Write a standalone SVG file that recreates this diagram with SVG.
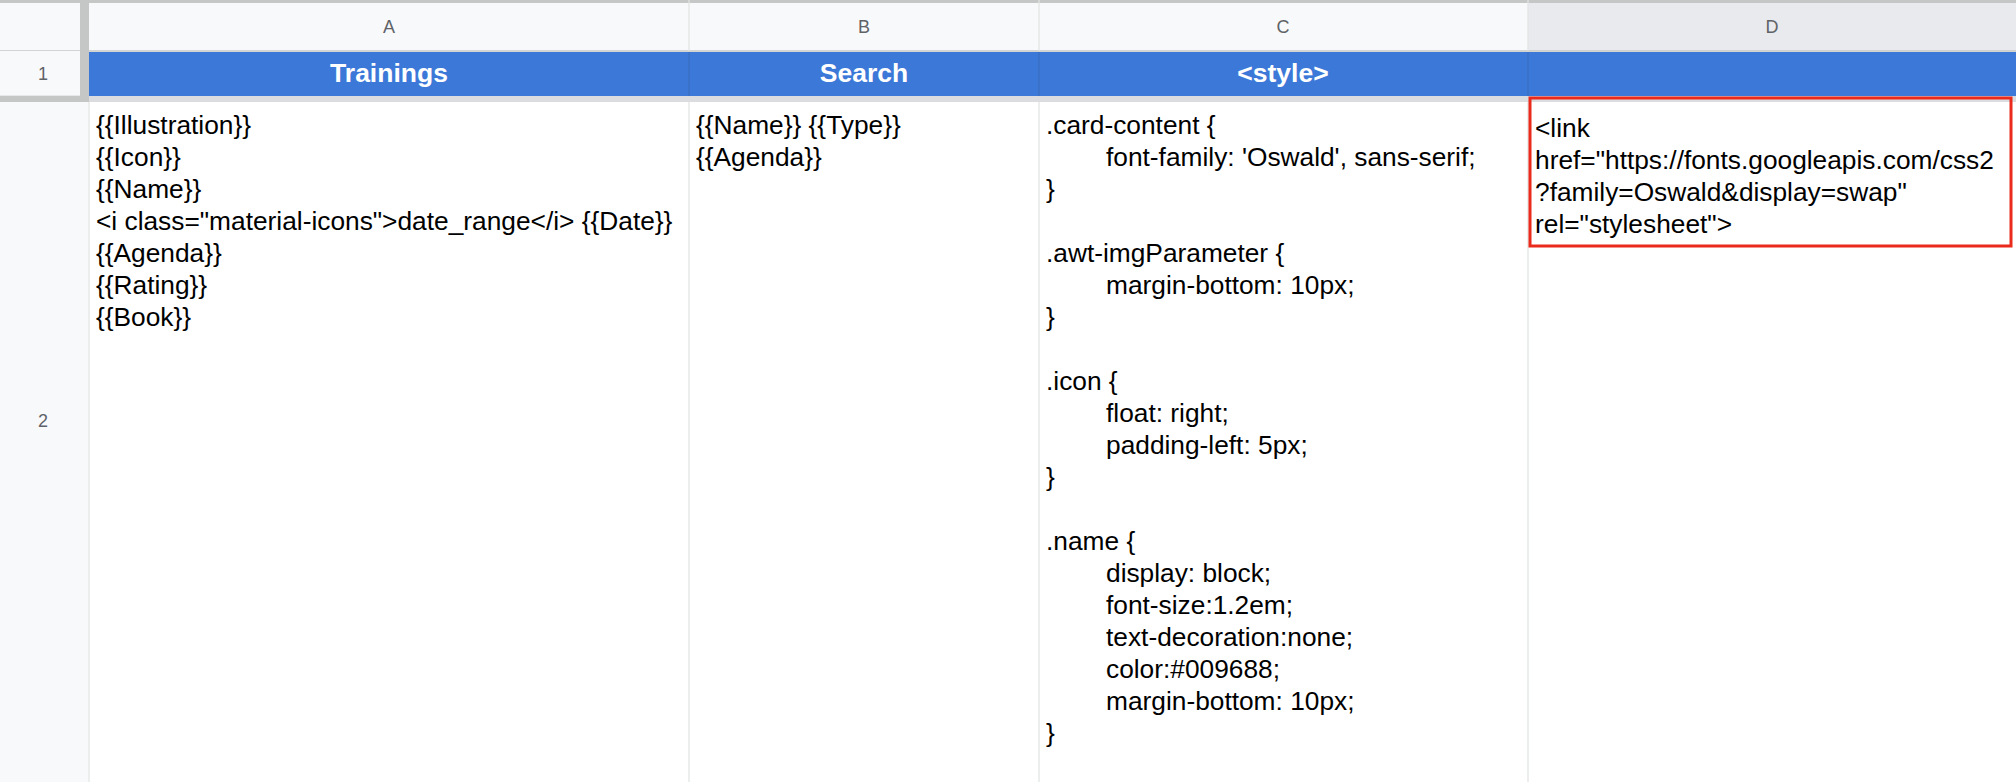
<svg xmlns="http://www.w3.org/2000/svg" width="2016" height="782" viewBox="0 0 2016 782">
<style>
.t{font-family:"Liberation Sans",Arial,sans-serif;font-size:26.3px;fill:#000}
.h{font-family:"Liberation Sans",Arial,sans-serif;font-size:26.5px;font-weight:bold;fill:#fff;text-anchor:middle}
.c{font-family:"Liberation Sans",Arial,sans-serif;font-size:18px;fill:#5f6368;text-anchor:middle}
.g{stroke:#e2e3e3;stroke-width:1.3}
</style>
<rect width="2016" height="782" fill="#fff"/>
<g id="colheaders">
<rect x="0" y="0" width="2016" height="51" fill="#f8f9fa"/>
<rect x="1528" y="0" width="488" height="51" fill="#e8eaed"/>
<rect x="0" y="0" width="2016" height="3" fill="#c4c7c5"/>
<line x1="0" y1="51" x2="2016" y2="51" stroke="#c4c7c5" stroke-width="1.5"/>
<line class="g" x1="689" y1="0" x2="689" y2="51"/>
<line class="g" x1="1039" y1="0" x2="1039" y2="51"/>
<line class="g" x1="1528" y1="0" x2="1528" y2="51"/>
<text class="c" x="389" y="33">A</text>
<text class="c" x="864" y="33">B</text>
<text class="c" x="1283" y="33">C</text>
<text class="c" x="1772" y="33">D</text>
</g>
<g id="rownums">
<rect x="0" y="51" width="88" height="731" fill="#f8f9fa"/>
<line class="g" x1="0" y1="96" x2="88" y2="96"/>
<text class="c" x="43" y="80">1</text>
<text class="c" x="43" y="427">2</text>
</g>
<g id="row1">
<rect x="89" y="52" width="1927" height="44" fill="#3c78d8"/>
<line x1="689" y1="52" x2="689" y2="96" stroke="#3a6fc4" stroke-width="1.3"/>
<line x1="1039" y1="52" x2="1039" y2="96" stroke="#3a6fc4" stroke-width="1.3"/>
<line x1="1528" y1="52" x2="1528" y2="96" stroke="#3a6fc4" stroke-width="1.3"/>
<text class="h" x="389" y="82">Trainings</text>
<text class="h" x="864" y="82">Search</text>
<text class="h" x="1283" y="82">&lt;style&gt;</text>
</g>
<g id="freeze">
<rect x="0" y="96" width="88" height="6" fill="#c4c7c5"/>
<rect x="88" y="96" width="1928" height="6" fill="#dadce0"/>
<rect x="80" y="0" width="9" height="102" fill="#c4c7c5"/>
<line class="g" x1="89" y1="102" x2="89" y2="782"/>
<line class="g" x1="689" y1="102" x2="689" y2="782"/>
<line class="g" x1="1039" y1="102" x2="1039" y2="782"/>
<line class="g" x1="1528" y1="102" x2="1528" y2="782"/>
</g>
<g id="cellA">
<text class="t" x="96" y="134">{{Illustration}}</text>
<text class="t" x="96" y="166">{{Icon}}</text>
<text class="t" x="96" y="198">{{Name}}</text>
<text class="t" x="96" y="230">&lt;i class="material-icons"&gt;date_range&lt;/i&gt; {{Date}}</text>
<text class="t" x="96" y="262">{{Agenda}}</text>
<text class="t" x="96" y="294">{{Rating}}</text>
<text class="t" x="96" y="326">{{Book}}</text>
</g>
<g id="cellB">
<text class="t" x="696" y="134">{{Name}} {{Type}}</text>
<text class="t" x="696" y="166">{{Agenda}}</text>
</g>
<g id="cellC">
<text class="t" x="1046" y="134">.card-content {</text>
<text class="t" x="1106" y="166">font-family: 'Oswald', sans-serif;</text>
<text class="t" x="1046" y="198">}</text>
<text class="t" x="1046" y="262">.awt-imgParameter {</text>
<text class="t" x="1106" y="294">margin-bottom: 10px;</text>
<text class="t" x="1046" y="326">}</text>
<text class="t" x="1046" y="390">.icon {</text>
<text class="t" x="1106" y="422">float: right;</text>
<text class="t" x="1106" y="454">padding-left: 5px;</text>
<text class="t" x="1046" y="486">}</text>
<text class="t" x="1046" y="550">.name {</text>
<text class="t" x="1106" y="582">display: block;</text>
<text class="t" x="1106" y="614">font-size:1.2em;</text>
<text class="t" x="1106" y="646">text-decoration:none;</text>
<text class="t" x="1106" y="678">color:#009688;</text>
<text class="t" x="1106" y="710">margin-bottom: 10px;</text>
<text class="t" x="1046" y="742">}</text>
</g>
<g id="cellD">
<rect x="1530" y="98" width="481" height="148" fill="none" stroke="#ea2a1b" stroke-width="3"/>
<text class="t" x="1535" y="137">&lt;link</text>
<text class="t" x="1535" y="169">href="https://fonts.googleapis.com/css2</text>
<text class="t" x="1535" y="201">?family=Oswald&amp;display=swap"</text>
<text class="t" x="1535" y="233">rel="stylesheet"&gt;</text>
</g>
</svg>
